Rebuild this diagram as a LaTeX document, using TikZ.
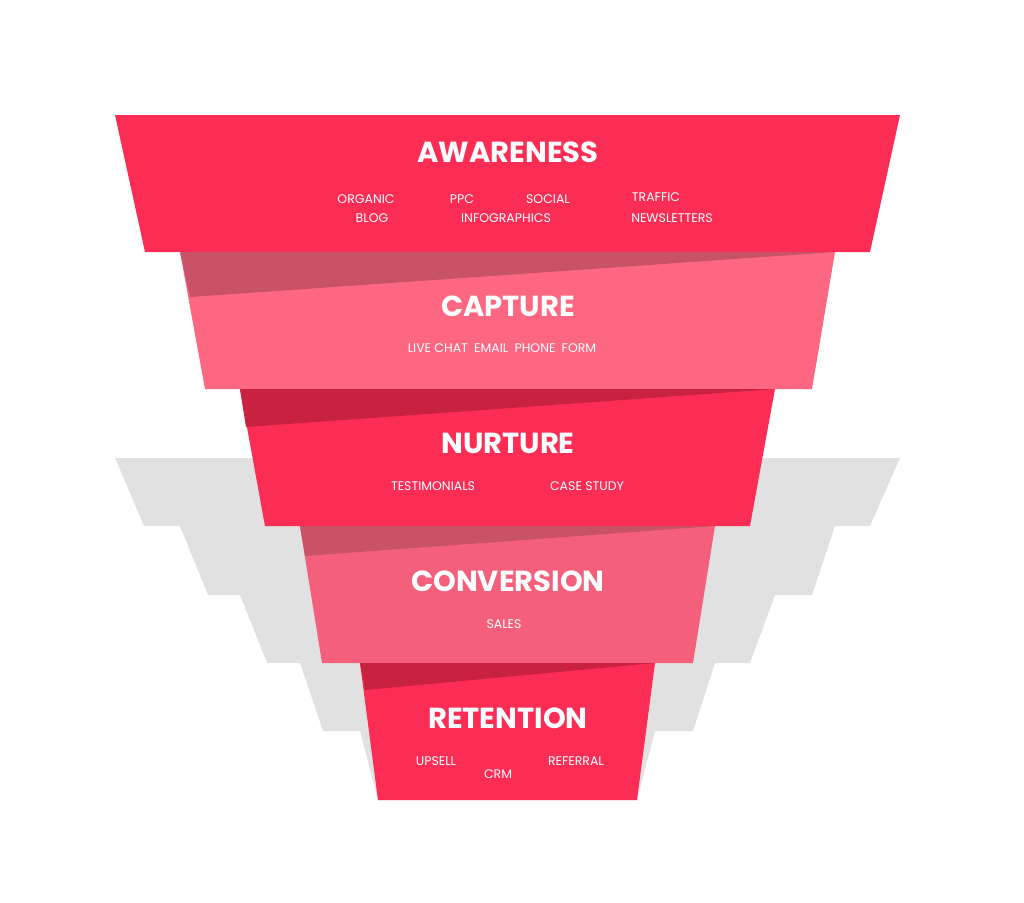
\documentclass[tikz,border=0pt]{standalone}
\usepackage{fontspec}
\setmainfont{Poppins}
\definecolor{redlayer}{HTML}{FC2D55}
\definecolor{pinklayer}{HTML}{FD6782}
\definecolor{pinklayerb}{HTML}{F4607B}
\definecolor{redshade}{HTML}{C92140}
\definecolor{pinkshade}{HTML}{C85366}
\definecolor{stepgray}{HTML}{E1E1E1}
\tikzset{
  title/.style={text=white, font=\bfseries\fontsize{29}{30}\selectfont},
  item/.style={text=white, font=\fontsize{12.5}{13}\selectfont},
}
\begin{document}
\begin{tikzpicture}[x=1pt,y=-1pt]
        \useasboundingbox (0,0) rectangle (1024,902);
        % Gradini grigi
        \fill[stepgray] (115,458) -- (144,526) -- (180,526) -- (208,595) -- (240,595) -- (267,663)
          -- (300,663) -- (323,731) -- (360,731) -- (378,800) -- (500,800) -- (500,458) -- cycle;
        \fill[stepgray] (900,458) -- (870,526) -- (835,526) -- (812,595) -- (775,595) -- (750,663)
          -- (715,663) -- (693,731) -- (655,731) -- (637,800) -- (500,800) -- (500,458) -- cycle;

        % Livelli dell'imbuto
        \fill[redlayer] (115,115) -- (900,115) -- (870,252) -- (145,252) -- cycle;
        \fill[pinklayer] (180,252) -- (835,252) -- (812,389) -- (205,389) -- cycle;
        \fill[pinkshade] (180,252) -- (835,252) -- (190,297) -- cycle; % Ombra
        \fill[redlayer] (240,389) -- (775,389) -- (750,526) -- (265,526) -- cycle;
        \fill[redshade] (240,389) -- (775,389) -- (246,427) -- cycle; % Ombra
        \fill[pinklayerb] (300,526) -- (715,526) -- (693,663) -- (322,663) -- cycle;
        \fill[pinkshade] (300,526) -- (715,526) -- (305,556) -- cycle; % Ombra
        \fill[redlayer] (360,663) -- (655,663) -- (637,800) -- (378,800) -- cycle;
        \fill[redshade] (360,663) -- (655,663) -- (365,690) -- cycle; % Ombra

        % Testi
        \node[title] (awareness) at (508,152) {AWARENESS};
        \node[item] (organic) at (366,199) {ORGANIC};
        \node[item] (blog) at (372,218) {BLOG};
        \node[item] (ppc) at (462,199) {PPC};
        \node[item] (social) at (548,199) {SOCIAL};
        \node[item] (infographics) at (506,218) {INFOGRAPHICS};
        \node[item] (traffic) at (656,197) {TRAFFIC};
        \node[item] (newsletters) at (672,218) {NEWSLETTERS};

        \node[title] (capture) at (508,306) {CAPTURE};
        \node[item] (channels) at (502,348) {LIVE CHAT\enspace EMAIL\enspace PHONE\enspace FORM};

        \node[title] (nurture) at (508,443) {NURTURE};
        \node[item] (testimonials) at (433,486) {TESTIMONIALS};
        \node[item] (casestudy) at (587,486) {CASE STUDY};

        \node[title] (conversion) at (508,581) {CONVERSION};
        \node[item] (sales) at (504,624) {SALES};

        \node[title] (retention) at (508,718) {RETENTION};
        \node[item] (upsell) at (436,761) {UPSELL};
        \node[item] (crm) at (498,774) {CRM};
        \node[item] (referral) at (576,761) {REFERRAL};
    \end{tikzpicture}
\end{document}
